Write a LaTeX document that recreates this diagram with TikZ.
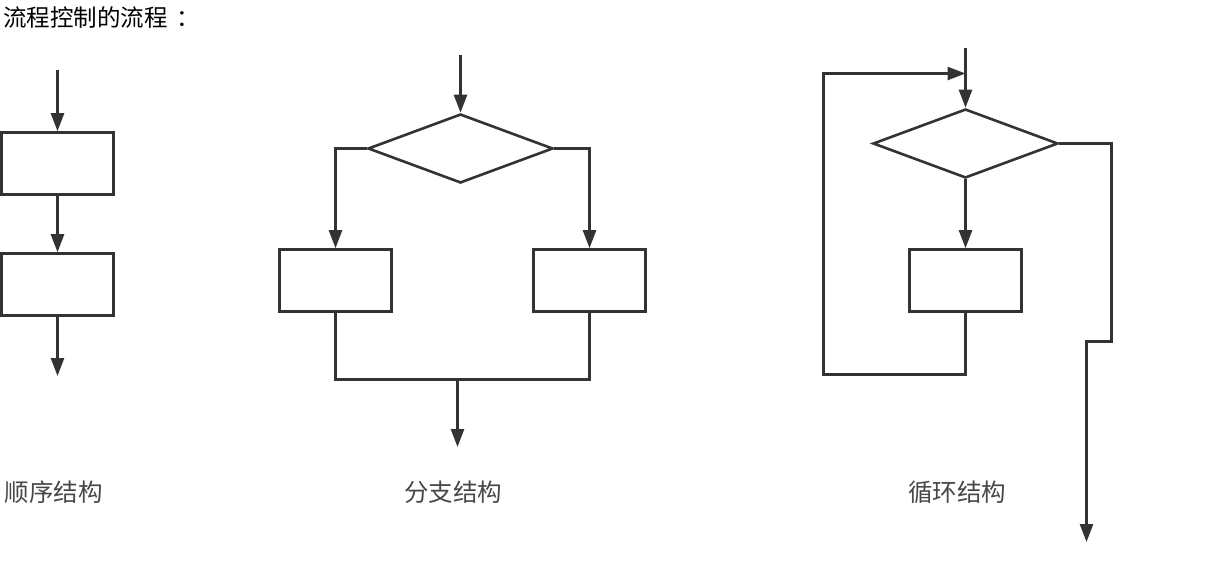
\documentclass[tikz,border=0pt]{standalone}
\usepackage{fontspec}
\setmainfont{Noto Sans CJK SC}
\definecolor{flowgray}{RGB}{51, 51, 51}
\usetikzlibrary{shapes.geometric, arrows.meta, positioning}

\begin{document}
\begin{tikzpicture}[x=1pt, y=-1pt,
    line width=2.6pt, draw=flowgray,
    flow/.style={-{Triangle[length=18pt, width=13pt]}},
    stepbox/.style={draw, fill=white, minimum width=112pt, minimum height=62pt, inner sep=0pt},
    decision/.style={draw, fill=white, diamond, minimum width=185pt, minimum height=69pt, inner sep=0pt},
    caption/.style={text=black!72, font=\fontsize{24.5pt}{28pt}\selectfont, inner sep=0pt}]
  \useasboundingbox (0,0) rectangle (1229,560);

  % title
  \node[anchor=west, inner sep=0pt, font=\fontsize{23.5pt}{27pt}\selectfont] (title) at (2,18) {流程控制的流程\hspace{9pt}：};

  % sequence
  \coordinate (seqIn) at (57.5,70);
  \node[stepbox] (seqA) at (57.5,163.5) {};
  \node[stepbox] (seqB) at (57.5,284.5) {};
  \coordinate (seqOut) at (57.5,376);
  \draw[flow] (seqIn) -- (seqA.north);
  \draw[flow] (seqA.south) -- (seqB.north);
  \draw[flow] (seqB.south) -- (seqOut);
  \node[caption] (seqText) at (54,492) {顺序结构};

  % branch
  \coordinate (brIn) at (460.5,55);
  \node[decision] (brD) at (460.5,148.5) {};
  \node[stepbox] (brL) at (335.5,280.5) {};
  \node[stepbox] (brR) at (589.5,280.5) {};
  \coordinate (brM) at (457.5,379.5);
  \coordinate (brOut) at (457.5,447);
  \draw[flow] (brIn) -- (brD.north);
  \draw[flow] (brD.west) -| (brL.north);
  \draw[flow] (brD.east) -| (brR.north);
  \draw (brL.south) |- (brM) -| (brR.south);
  \draw[flow] (brM) -- (brOut);
  \node[caption] (brText) at (453,492) {分支结构};

  % loop
  \coordinate (lpTop) at (965.5,48);
  \coordinate (lpIn) at (965.5,73.5);
  \node[decision] (lpD) at (965.5,143.5) {};
  \node[stepbox] (lpB) at (965.5,280.5) {};
  \coordinate (lpBack) at (823.5,374.5);
  \coordinate (lpR) at (1111.5,341.5);
  \coordinate (lpJog) at (1086.5,341.5);
  \coordinate (lpOut) at (1086.5,542);
  \draw[flow] (lpTop) -- (lpD.north);
  \draw[flow] (lpD.south) -- (lpB.north);
  \draw[flow] (lpB.south) |- (lpBack) |- (lpIn);
  \draw[flow] (lpD.east) -| (lpR) -- (lpJog) -- (lpOut);
  \node[caption] (lpText) at (957,492) {循环结构};
\end{tikzpicture}
\end{document}
